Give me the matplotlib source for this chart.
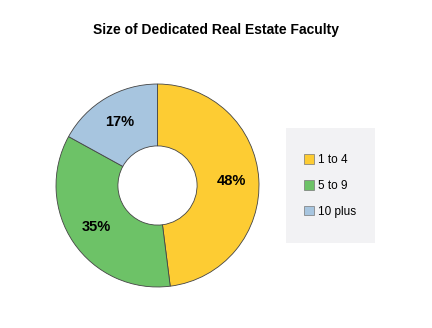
import matplotlib.pyplot as plt
from matplotlib.patches import Rectangle, Patch

plt.rcParams['font.family'] = ['Liberation Sans', 'DejaVu Sans']

categories = ['1 to 4', '5 to 9', '10 plus']
shares = [48, 35, 17]
colors = ['#FDCC33', '#6DC267', '#A7C5DF']

fig = plt.figure(figsize=(4.32, 3.28), dpi=100)
fig.text(0.5, 1 - 30 / 328, 'Size of Dedicated Real Estate Faculty',
         ha='center', va='center', fontsize=10, fontweight='bold')

ax = fig.add_axes([55 / 432, 40 / 328, 205 / 432, 205 / 328])
wedges, texts, autotexts = ax.pie(
    shares, colors=colors, startangle=90, counterclock=False,
    autopct='%d%%', pctdistance=0.73,
    wedgeprops=dict(width=0.61, edgecolor='#444444', linewidth=0.6),
    textprops=dict(fontsize=10.5, fontweight='bold', color='black'))
ax.set_xlim(-1.01, 1.01)
ax.set_ylim(-1.01, 1.01)
ax.set_aspect('auto')

# legend panel
fig.patches.append(Rectangle((286 / 432, 1 - 243 / 328), 89 / 432, 115 / 328,
                             transform=fig.transFigure, facecolor='#F2F2F4',
                             edgecolor='none', zorder=0))
handles = [Patch(facecolor=c, edgecolor='#777777', linewidth=0.5) for c in colors]
fig.legend(handles, categories, loc='center left',
           bbox_to_anchor=(293 / 432, 1 - 186 / 328), frameon=False,
           fontsize=8.5, handlelength=0.9, handleheight=0.9,
           handletextpad=0.3, labelspacing=1.15)

fig.savefig('out.png', dpi=100)
